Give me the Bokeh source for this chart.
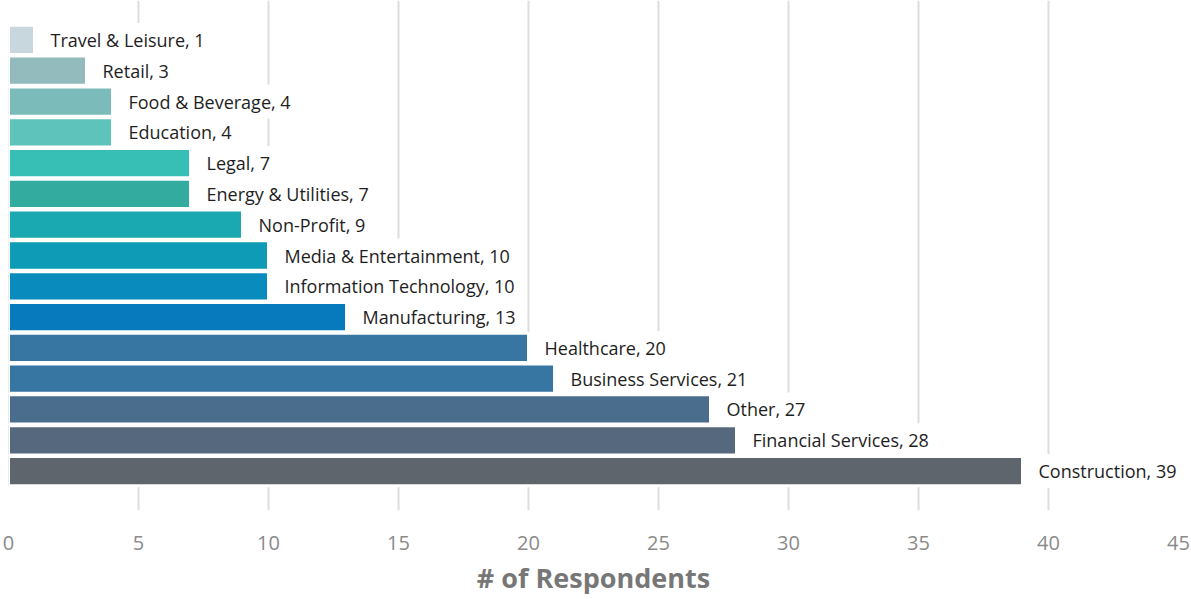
from bokeh.plotting import figure
from bokeh.models import ColumnDataSource, FactorRange, Range1d, SingleIntervalTicker
from bokeh.core.properties import value
from bokeh.embed import file_html
from bokeh.resources import INLINE

categories = ["Travel & Leisure", "Retail", "Food & Beverage", "Education", "Legal",
              "Energy & Utilities", "Non-Profit", "Media & Entertainment",
              "Information Technology", "Manufacturing", "Healthcare",
              "Business Services", "Other", "Financial Services", "Construction"]
values = [1, 3, 4, 4, 7, 7, 9, 10, 10, 13, 20, 21, 27, 28, 39]
colors = ["#c8d6de", "#93babd", "#7bbcba", "#5ec4bb", "#38bfb5",
          "#33ac9f", "#1aa8b1", "#0d9bb5", "#0a8bbd", "#0779bd",
          "#3775a3", "#3775a3", "#4a6d8d", "#56687d", "#5e656d"]
x_ticks_step = 5
x_max = 45
x_title = "# of Respondents"

labels = [f"{c}, {v}" for c, v in zip(categories, values)]
src = ColumnDataSource(dict(cat=categories, val=values, color=colors, label=labels))

FONT = "Open Sans"

p = figure(width=1191, height=599,
           y_range=FactorRange(factors=categories[::-1], range_padding=0.78,
                               range_padding_units="absolute"),
           x_range=Range1d(0, x_max),
           output_backend="svg", toolbar_location=None,
           min_border_left=8, min_border_right=13, min_border_top=0, min_border_bottom=89)
p.outline_line_color = None
p.background_fill_color = "white"

p.hbar(y="cat", right="val", left=0, height=0.95, source=src,
       fill_color="color", line_color="white", line_width=3)

p.text(x="val", y="cat", text="label", source=src, x_offset=11,
       text_baseline="middle", text_align="left",
       text_font=value(FONT), text_font_size="18px", text_color="#1e1e1e",
       background_fill_color="white", padding=5)

p.yaxis.visible = False
p.ygrid.grid_line_color = None
p.xgrid.grid_line_color = "#dddddd"
p.xgrid.grid_line_width = 2

ax = p.xaxis[0]
ax.ticker = SingleIntervalTicker(interval=x_ticks_step)
ax.axis_line_color = None
ax.major_tick_line_color = None
ax.minor_tick_line_color = None
ax.major_label_text_font = FONT
ax.major_label_text_font_size = "20px"
ax.major_label_text_color = "#8a8a8a"
ax.major_label_standoff = 19
ax.axis_label = x_title
ax.axis_label_text_font = FONT
ax.axis_label_text_font_size = "27px"
ax.axis_label_text_font_style = "bold"
ax.axis_label_text_color = "#777777"
ax.axis_label_standoff = 6

open("out.html", "w").write(file_html(p, INLINE))
